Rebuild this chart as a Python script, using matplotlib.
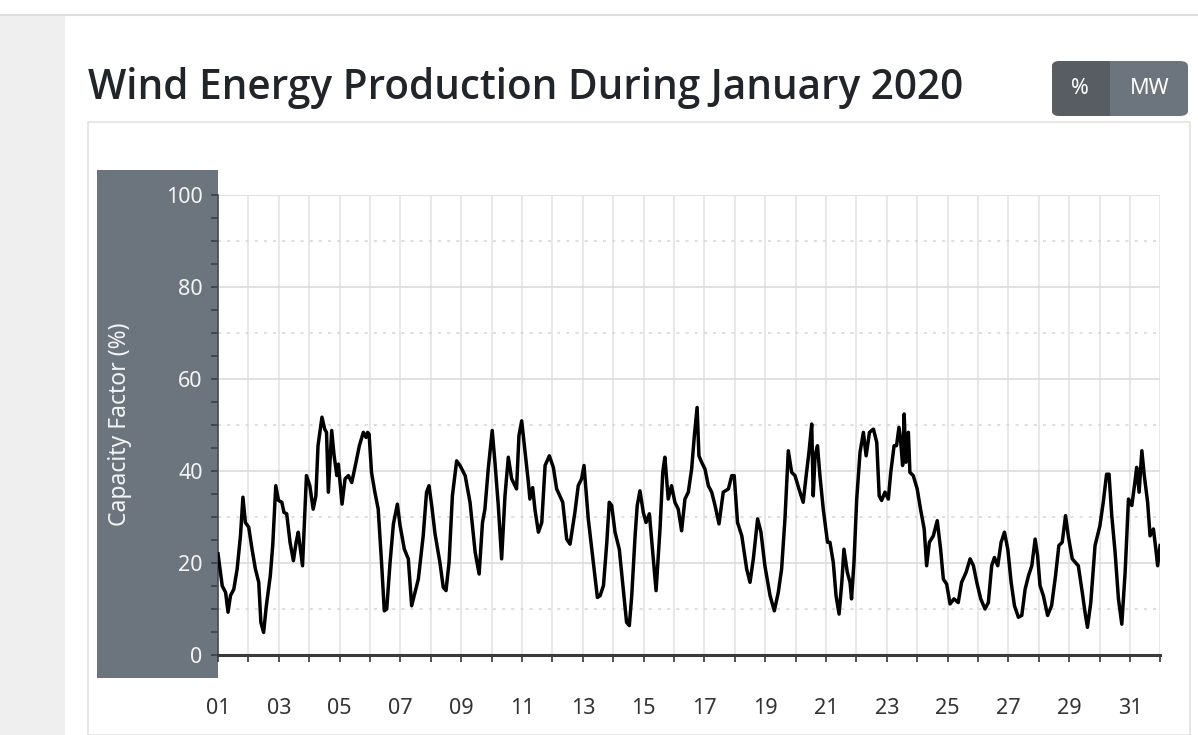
#!/usr/bin/python
# -*- coding:utf-8 -*-
# Wind energy capacity factor, January 2020 (screenshot-like layout)
import matplotlib as mplt
mplt.use("Agg")
import matplotlib.pyplot as plt
from matplotlib.patches import Rectangle, FancyBboxPatch

W, H = 1198, 735

# day of month (fractional) and capacity factor (%)
day = [1.00, 1.14, 1.25, 1.33, 1.41, 1.52, 1.63, 1.74, 1.82, 1.90,
       2.01, 2.12, 2.23, 2.34, 2.41, 2.50, 2.59, 2.72, 2.80, 2.90,
       2.99, 3.10, 3.17, 3.26, 3.37, 3.48, 3.57, 3.64, 3.78, 3.91,
       4.02, 4.13, 4.22, 4.29, 4.42, 4.51, 4.57, 4.63, 4.74, 4.82,
       4.91, 4.96, 5.08, 5.18, 5.29, 5.40, 5.54, 5.65, 5.78, 5.87,
       5.92, 5.97, 6.05, 6.16, 6.27, 6.38, 6.47, 6.55, 6.66, 6.77,
       6.90, 6.99, 7.13, 7.26, 7.37, 7.48, 7.59, 7.75, 7.86, 7.94,
       8.03, 8.14, 8.30, 8.41, 8.50, 8.60, 8.71, 8.85, 8.96, 9.13,
       9.29, 9.46, 9.59, 9.70, 9.78, 9.89, 10.02, 10.11, 10.22, 10.33,
       10.44, 10.55, 10.66, 10.82, 10.90, 10.99, 11.10, 11.21, 11.26, 11.35,
       11.43, 11.54, 11.65, 11.76, 11.90, 12.03, 12.14, 12.34, 12.47, 12.58,
       12.74, 12.85, 12.96, 13.04, 13.18, 13.32, 13.48, 13.57, 13.68, 13.79,
       13.87, 13.95, 14.06, 14.20, 14.33, 14.44, 14.53, 14.61, 14.72, 14.79,
       14.88, 14.99, 15.08, 15.19, 15.32, 15.41, 15.54, 15.63, 15.70, 15.81,
       15.92, 16.03, 16.14, 16.25, 16.36, 16.47, 16.58, 16.67, 16.76, 16.82,
       16.91, 17.02, 17.13, 17.24, 17.35, 17.48, 17.62, 17.79, 17.90, 17.98,
       18.09, 18.23, 18.39, 18.50, 18.61, 18.75, 18.86, 18.99, 19.16, 19.30,
       19.43, 19.54, 19.65, 19.76, 19.87, 19.98, 20.11, 20.25, 20.36, 20.44,
       20.53, 20.58, 20.64, 20.72, 20.80, 20.91, 21.05, 21.13, 21.24, 21.33,
       21.43, 21.52, 21.59, 21.70, 21.79, 21.84, 21.92, 22.01, 22.12, 22.23,
       22.32, 22.43, 22.56, 22.67, 22.75, 22.83, 22.94, 23.05, 23.13, 23.24,
       23.32, 23.40, 23.46, 23.52, 23.57, 23.63, 23.71, 23.76, 23.87, 24.00,
       24.11, 24.23, 24.31, 24.40, 24.53, 24.66, 24.77, 24.86, 24.97, 25.08,
       25.21, 25.35, 25.46, 25.61, 25.74, 25.85, 25.96, 26.09, 26.23, 26.34,
       26.45, 26.54, 26.65, 26.76, 26.87, 26.98, 27.09, 27.20, 27.33, 27.44,
       27.55, 27.66, 27.77, 27.88, 27.96, 28.04, 28.15, 28.29, 28.42, 28.55,
       28.66, 28.77, 28.88, 28.97, 29.10, 29.30, 29.43, 29.52, 29.60, 29.71,
       29.85, 30.01, 30.12, 30.23, 30.31, 30.40, 30.51, 30.62, 30.73, 30.84,
       30.95, 31.06, 31.16, 31.22, 31.30, 31.39, 31.47, 31.58, 31.66, 31.77,
       31.85, 31.91, 31.99]
cf = [22.0, 15.0, 13.6, 9.3, 12.9, 14.3, 18.7, 26.0, 34.3, 28.8,
      27.8, 23.0, 18.7, 15.8, 7.1, 4.9, 10.7, 17.2, 23.8, 36.8,
      33.6, 33.2, 31.0, 30.7, 24.5, 20.5, 24.5, 26.7, 19.4, 39.0,
      36.8, 31.7, 34.6, 45.5, 51.7, 49.1, 48.4, 35.4, 48.8, 43.3,
      39.0, 41.5, 32.8, 38.3, 39.0, 37.5, 41.9, 45.5, 48.4, 47.3,
      48.4, 48.0, 39.7, 35.4, 31.7, 20.1, 9.6, 10.0, 20.1, 28.5,
      32.8, 28.1, 23.0, 20.9, 10.7, 13.6, 16.5, 25.9, 35.4, 36.8,
      32.5, 26.3, 20.1, 14.7, 14.0, 20.1, 34.6, 42.2, 41.2, 39.0,
      33.2, 22.3, 17.6, 28.8, 31.7, 40.5, 48.8, 41.9, 32.5, 20.9,
      34.6, 43.0, 38.3, 36.1, 47.7, 50.9, 44.1, 37.5, 33.9, 36.4,
      31.4, 26.7, 28.8, 41.2, 43.3, 40.8, 36.1, 33.2, 25.2, 24.1,
      31.0, 36.8, 38.3, 41.2, 29.6, 21.6, 12.5, 12.9, 15.1, 24.5,
      33.2, 32.5, 26.7, 23.0, 14.3, 7.1, 6.4, 12.9, 25.9, 32.5,
      35.7, 31.0, 28.8, 30.7, 20.9, 14.0, 27.4, 39.7, 43.0, 33.9,
      36.8, 33.2, 31.7, 27.0, 33.9, 35.4, 40.4, 47.7, 53.8, 43.3,
      41.9, 40.4, 36.8, 35.4, 32.5, 28.5, 35.4, 36.1, 39.0, 39.0,
      28.8, 25.9, 18.7, 15.8, 20.9, 29.6, 26.7, 19.4, 12.9, 9.6,
      13.6, 18.7, 29.6, 44.4, 39.7, 39.0, 36.1, 33.2, 39.7, 44.1,
      50.2, 34.6, 43.3, 45.5, 39.0, 31.7, 24.5, 24.5, 20.1, 12.9,
      8.9, 15.8, 23.0, 18.0, 15.8, 12.2, 20.1, 33.9, 44.1, 48.4,
      43.3, 48.4, 49.1, 46.2, 34.6, 33.6, 35.4, 33.9, 39.7, 45.5,
      45.5, 49.5, 46.2, 41.2, 52.4, 41.9, 48.4, 39.7, 39.0, 36.1,
      31.7, 27.4, 19.4, 24.5, 25.9, 29.2, 23.0, 16.5, 15.4, 11.1,
      12.2, 11.4, 15.8, 18.0, 20.9, 19.4, 15.8, 12.2, 10.0, 11.4,
      19.4, 21.2, 19.4, 24.5, 26.7, 23.0, 15.8, 10.7, 8.2, 8.6,
      14.3, 17.2, 19.4, 25.2, 21.6, 15.1, 12.9, 8.6, 10.7, 17.2,
      23.8, 24.5, 30.3, 25.9, 20.9, 19.4, 13.6, 9.3, 6.0, 11.4,
      23.8, 28.1, 33.2, 39.3, 39.3, 30.3, 22.3, 12.2, 6.7, 18.0,
      33.9, 32.5, 37.5, 40.8, 35.4, 44.4, 39.0, 33.2, 25.9, 27.4,
      23.0, 19.4, 23.8]

title = 'Wind Energy Production During January 2020'
ylabel = 'Capacity Factor (%)'
yticks = [0, 20, 40, 60, 80, 100]
xtick_days = list(range(1, 33))
xtick_labels = ['%02d' % d if d % 2 == 1 and d < 32 else '' for d in xtick_days]

def fx(px):
	return px / W

def fy(py):
	return 1 - py / H

fig = plt.figure(figsize=(W / 100, H / 100), dpi=100)
fig.patch.set_facecolor('white')

# page decorations (side strip, top rule, card, toggle button)
fig.patches.append(Rectangle((0, 0), fx(65), fy(15), transform=fig.transFigure,
                             facecolor='#efefef', edgecolor='none', zorder=0))
fig.add_artist(plt.Line2D([0, 1], [fy(15), fy(15)], color='#dedede', lw=1.5))
fig.patches.append(Rectangle((fx(88), 0), fx(1190) - fx(88), fy(122), transform=fig.transFigure,
                             facecolor='white', edgecolor='#e2e2e2', lw=1.2, zorder=0))
fig.patches.append(FancyBboxPatch((fx(1052), fy(116)), fx(1188) - fx(1052), fy(61) - fy(116),
                                  boxstyle='round,pad=0,rounding_size=0.007',
                                  transform=fig.transFigure, facecolor='#6c757d',
                                  edgecolor='none', zorder=1))
fig.patches.append(FancyBboxPatch((fx(1052), fy(116)), fx(1110) - fx(1052), fy(61) - fy(116),
                                  boxstyle='round,pad=0,rounding_size=0.007',
                                  transform=fig.transFigure, facecolor='#575d63',
                                  edgecolor='none', zorder=2))
fig.patches.append(Rectangle((fx(1095), fy(116)), fx(1110) - fx(1095), fy(61) - fy(116),
                             transform=fig.transFigure, facecolor='#575d63',
                             edgecolor='none', zorder=2))
fig.text(fx(1080), fy(89), '%', color='white', fontsize=15.5, family='Noto Sans',
         ha='center', va='center', zorder=3)
fig.text(fx(1150), fy(89), 'MW', color='white', fontsize=15.5, family='Noto Sans',
         ha='center', va='center', zorder=3)
fig.text(fx(88), fy(88), title, color='#212529', fontsize=29.2, family='Open Sans',
         weight='semibold', ha='left', va='center')

# gray panel behind the y axis
fig.patches.append(Rectangle((fx(97), fy(678)), fx(218) - fx(97), fy(170) - fy(678),
                             transform=fig.transFigure, facecolor='#6c757d',
                             edgecolor='none', zorder=1))

ax = fig.add_axes([fx(218), fy(655), fx(1160.4) - fx(218), fy(195) - fy(655)])
ax.set_facecolor('none')
ax.set_zorder(3)

ax.plot(day, cf, color='black', lw=2.5, solid_joinstyle='round', zorder=4)

ax.set_xlim(1, 32)
ax.set_ylim(0, 100)

# grid: every day vertically, solid at 20s, dotted at the odd tens
for d in xtick_days:
	ax.axvline(d, color='#e6e6e6', lw=1.3, zorder=1)
for v in [20, 40, 60, 80, 100]:
	ax.axhline(v, color='#dcdcdc', lw=1.2, zorder=1)
for v in [10, 30, 50, 70, 90]:
	ax.axhline(v, color='#d4d4d4', lw=1.1, ls=(0, (2, 4)), zorder=1)

ax.set_xticks(xtick_days)
ax.set_xticklabels(xtick_labels)
ax.set_yticks(yticks)
ax.set_yticks(range(0, 101, 5), minor=True)
ax.tick_params(axis='x', length=5, width=1.3, color='#444444', pad=26,
               labelsize=15.5, labelcolor='#333333')
ax.tick_params(axis='y', which='both', length=5, width=1.3, color='#444444',
               pad=6, labelsize=15.5, labelcolor='#f4f4f4')
for lab in ax.get_xticklabels() + ax.get_yticklabels():
	lab.set_family('Noto Sans')

for s in ['top', 'right']:
	ax.spines[s].set_visible(False)
ax.spines['bottom'].set_color('#3a3a3a')
ax.spines['bottom'].set_linewidth(2.2)
ax.spines['left'].set_color('#4a4a4a')
ax.spines['left'].set_linewidth(1.2)

fig.text(fx(120), fy(424), ylabel, color='#f4f4f4', fontsize=16.5, family='Noto Sans',
         rotation=90, ha='center', va='center', zorder=5)

fig.savefig('out.png', dpi=100)
plt.close('all')
